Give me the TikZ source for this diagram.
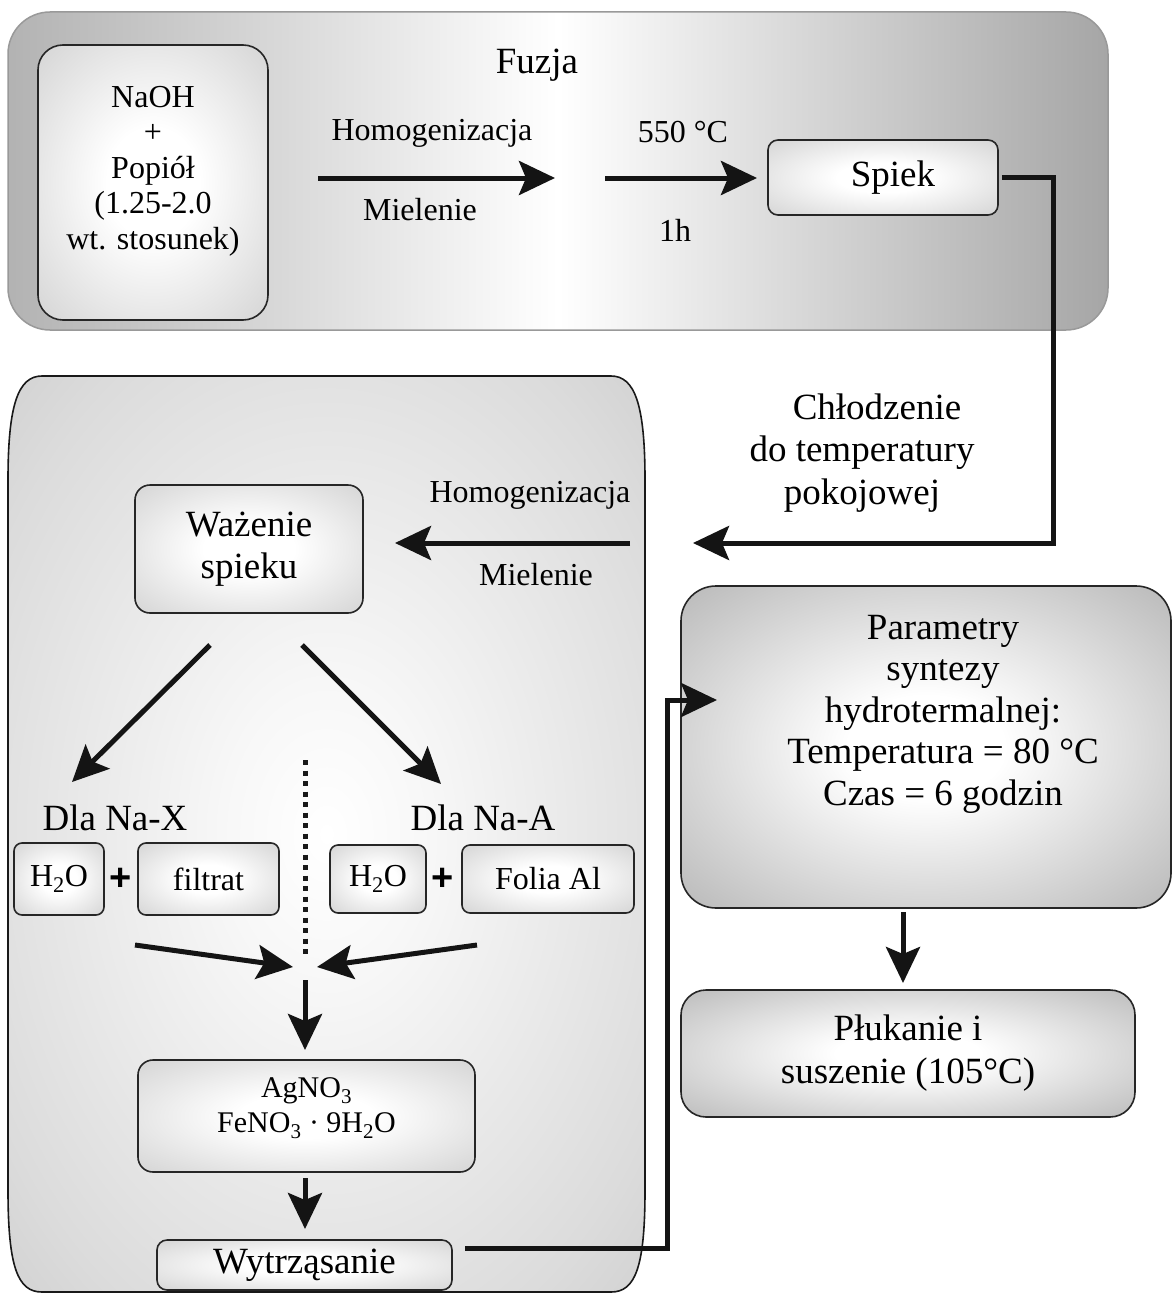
\documentclass[tikz,border=0pt]{standalone}
\usepackage{fontspec}
\setmainfont{Liberation Serif}
\setsansfont{Liberation Sans}
\usetikzlibrary{arrows.meta,calc}
\newcommand\fbig{\fontsize{37}{41.5}\selectfont}
\newcommand\fsml{\fontsize{32}{36}\selectfont}
\newcommand\fchem{\fontsize{30}{35}\selectfont}
\pgfdeclareradialshading{softS}{\pgfpoint{0bp}{0bp}}{color(0bp)=(white); color(10bp)=(white); color(50bp)=(black!26)}
\pgfdeclareradialshading{softL}{\pgfpoint{0bp}{0bp}}{color(0bp)=(white); color(8bp)=(black!3); color(30bp)=(black!14); color(50bp)=(black!27)}
\pgfdeclareradialshading{softP}{\pgfpoint{0bp}{0bp}}{color(0bp)=(white); color(8bp)=(white); color(50bp)=(black!42)}
\pgfdeclareradialshading{softQ}{\pgfpoint{0bp}{0bp}}{color(0bp)=(white); color(8bp)=(white); color(50bp)=(black!40)}
\begin{document}
\begin{tikzpicture}[x=1pt,y=-1pt,
  box/.style={draw=black!85, line width=1.6pt, shading=softS,
    rounded corners=10pt, inner sep=0pt, align=center},
  bigbox/.style={draw=black!85, line width=1.6pt, shading=softP,
    inner sep=0pt, align=center},
  arr/.style={line width=5pt, draw=black!92, -{Stealth[length=36pt,width=34pt,inset=7pt]}},
  lbl/.style={inner sep=0pt, align=center},
  plus/.style={inner sep=0pt, font=\sffamily\bfseries\fontsize{38}{40}\selectfont}
]
\useasboundingbox (0,0) rectangle (1173,1295);
\fill[white] (0,0) rectangle (1173,1295);

% ---------- top container (Fuzja)
\node[draw=black!40, line width=1.5pt, rounded corners=42pt,
      left color=black!30, right color=black!35, middle color=white,
      minimum width=1100pt, minimum height=318pt, inner sep=0pt] (fuzbox) at (558,171) {};
\node[lbl, font=\fbig] (fuzja) at (537,65) {Fuzja};

\node[box, rounded corners=25pt, minimum width=230pt, minimum height=275pt] (naoh) at (153,182.5) {};
\node[lbl, font=\fontsize{32}{35.5}\selectfont] (naohT) at (153,171)
  {NaOH\\+\\Popiół\\(1.25-2.0\\wt. stosunek)};

\coordinate (a1s) at (318,178);
\coordinate (a1e) at (555,178);
\draw[arr] (a1s) -- (a1e);
\node[lbl, font=\fsml] (hom1) at (432,133) {Homogenizacja};
\node[lbl, font=\fsml] (miel1) at (420,210) {Mielenie};

\coordinate (a2s) at (605,178);
\coordinate (a2e) at (757,178);
\draw[arr] (a2s) -- (a2e);
\node[lbl, font=\fsml] (temp1) at (683,132) {550 °C};
\node[lbl, font=\fsml] (time1) at (675,230) {1h};

\node[box, minimum width=230pt, minimum height=75pt, font=\fbig] (spiek) at (883,177.5) {\hspace*{20pt}Spiek};

% ---------- lower-left container
\shade[draw=black!90, line width=1.6pt, shading=softL]
  (8,1190) -- (8,480) .. controls (8,405) and (18,376) .. (42,376) -- (611,376)
  .. controls (635,376) and (645,405) .. (645,480) -- (645,1190)
  .. controls (645,1268) and (635,1292) .. (611,1292) -- (42,1292)
  .. controls (18,1292) and (8,1268) .. (8,1190) -- cycle;

\node[box, rounded corners=15pt, minimum width=228pt, minimum height=128pt, font=\fbig] (waz) at (249,549) {Ważenie\\spieku};

\node[lbl, font=\fsml] (hom2) at (530,495) {Homogenizacja};
\node[lbl, font=\fsml] (miel2) at (536,575) {Mielenie};
\coordinate (a3s) at (630,543);
\coordinate (a3e) at (395,543);
\draw[arr] (a3s) -- (a3e);

% cooling connector from Spiek
\node[lbl, font=\fontsize{37}{42.5}\selectfont] (cool) at (862,453) {\hspace*{30pt}Chłodzenie\\do temperatury\\pokojowej};
\coordinate (c1) at (1053,543);
\coordinate (c2) at (693,543);
\draw[arr] ([xshift=3pt]spiek.east) -| (c1) -- (c2);

% diagonal arrows
\coordinate (d1s) at (210,645);
\coordinate (d1e) at (72,782);
\coordinate (d2s) at (302,645);
\coordinate (d2e) at (441,784);
\draw[arr] (d1s) -- (d1e);
\draw[arr] (d2s) -- (d2e);

% dotted separator
\coordinate (dt1) at (305,760);
\coordinate (dt2) at (305,955);
\draw[line width=5pt, draw=black!90, dash pattern=on 5pt off 5.5pt] (dt1) -- (dt2);

\node[lbl, font=\fbig] (nax) at (115,818) {Dla Na-X};
\node[lbl, font=\fbig] (naa) at (483,818) {Dla Na-A};

\node[box, rounded corners=8pt, minimum width=90pt, minimum height=72pt, font=\fsml] (h2oa) at (59,879) {H\textsubscript{2}O};
\node[plus] (plusa) at (121,879) {+};
\node[box, rounded corners=8pt, minimum width=141pt, minimum height=72pt, font=\fsml] (filtr) at (208.5,879) {filtrat};

\node[box, rounded corners=8pt, minimum width=96pt, minimum height=68pt, font=\fsml] (h2ob) at (378,879) {H\textsubscript{2}O};
\node[plus] (plusb) at (443,879) {+};
\node[box, rounded corners=8pt, minimum width=172pt, minimum height=68pt, font=\fsml] (folia) at (548,879) {Folia Al};

% converging arrows
\coordinate (m1s) at (135,945);
\coordinate (m1e) at (293,967);
\coordinate (m2s) at (477,945);
\coordinate (m2e) at (317,967);
\draw[arr] (m1s) -- (m1e);
\draw[arr] (m2s) -- (m2e);
\coordinate (m3s) at (305,980);
\coordinate (m3e) at (305,1050);
\draw[arr] (m3s) -- (m3e);

\node[box, rounded corners=15pt, minimum width=337pt, minimum height=112pt, font=\fchem] (agno) at (306.5,1116)
  {AgNO\textsubscript{3}\\FeNO\textsubscript{3} · 9H\textsubscript{2}O\\[-14pt]\mbox{}};

\coordinate (m4s) at (305,1178);
\coordinate (m4e) at (305,1229);
\draw[arr] (m4s) -- (m4e);

\node[box, minimum width=295pt, minimum height=50pt, font=\fbig] (wyt) at (304.5,1265) {Wytrząsanie};

% ---------- right column
\node[bigbox, rounded corners=35pt, minimum width=490pt, minimum height=322pt] (param) at (926,747) {};
\node[lbl, font=\fbig] (paramT) at (943,714)
  {Parametry\\syntezy\\hydrotermalnej:\\Temperatura = 80 °C\\Czas = 6 godzin};

\coordinate (w1) at (465,1248);
\coordinate (w2) at (667,700);
\coordinate (w3) at (717,700);
\draw[arr] (w1) -| (w2) -- (w3);

\coordinate (p1s) at (903,912);
\coordinate (p1e) at (903,983);
\draw[arr] (p1s) -- (p1e);

\node[bigbox, shading=softQ, rounded corners=25pt, minimum width=454pt, minimum height=127pt, font=\fontsize{37}{43}\selectfont] (pluk) at (908,1053.5)
  {Płukanie i\\suszenie (105°C)};
\end{tikzpicture}
\end{document}
